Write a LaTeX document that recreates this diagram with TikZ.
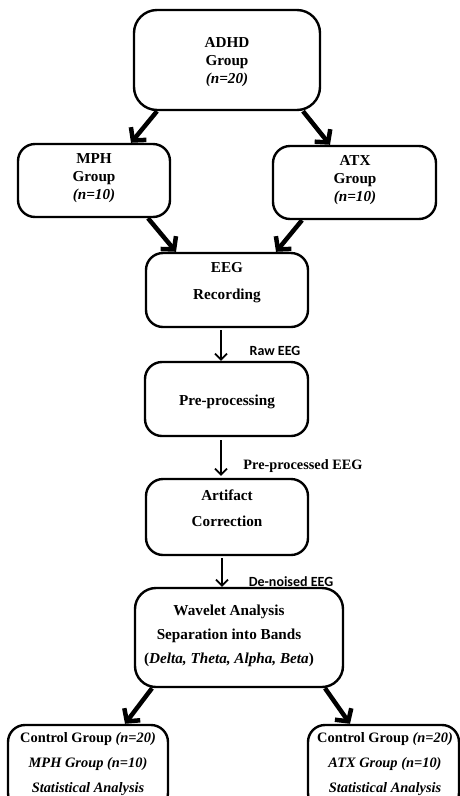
\documentclass[tikz,border=0pt]{standalone}
\usepackage{fontspec}
\setmainfont{Liberation Serif}
\newfontfamily\carlitofont{Carlito}
\usetikzlibrary{arrows.meta,calc}
\tikzset{
  box/.style={draw=black, line width=2.4pt, rounded corners=17pt, inner sep=0pt},
  txt/.style={align=center, inner sep=0pt, font=\bfseries\fontsize{15.2}{18}\selectfont},
  thickarr/.style={line width=4.5pt, -{Straight Barb[length=9pt,width=20pt]}},
  thinarr/.style={line width=1.8pt, -{Straight Barb[length=6pt,width=12pt]}},
  lbl/.style={inner sep=0pt, font=\bfseries\fontsize{14.3}{16}\selectfont},
  lbls/.style={inner sep=0pt, font=\carlitofont\bfseries\fontsize{14}{16}\selectfont},
}
\begin{document}
\begin{tikzpicture}[x=1pt,y=-1pt]
\path[use as bounding box, clip] (0,0) rectangle (460,796);
% boxes
\node[box, rounded corners=23pt, minimum width=186pt, minimum height=100pt] (adhd) at (227,60) {};
\node[box, minimum width=152pt, minimum height=73pt] (mph) at (94,180.5) {};
\node[box, minimum width=163pt, minimum height=73pt] (atx) at (354.5,182.5) {};
\node[box, minimum width=162pt, minimum height=74pt] (eeg) at (227,290) {};
\node[box, minimum width=163pt, minimum height=74pt] (pre) at (226.5,399) {};
\node[box, minimum width=162pt, minimum height=76pt] (art) at (227,517) {};
\node[box, rounded corners=21pt, minimum width=208pt, minimum height=99pt] (wav) at (239,637.5) {};
\node[box, minimum width=160pt, minimum height=85pt] (bl) at (88,767.5) {};
\node[box, minimum width=151pt, minimum height=85pt] (br) at (383.5,767.5) {};
% texts
\node[txt] (tadhd) at (227,62) {ADHD\\Group\\\textit{(n=20)}};
\node[txt] (tmph) at (94,178) {MPH\\Group\\\textit{(n=10)}};
\node[txt] (tatx) at (355,180) {ATX\\Group\\\textit{(n=10)}};
\node[txt, font=\bfseries\fontsize{15.2}{27}\selectfont] (teeg) at (227,282.5) {EEG\\Recording};
\node[txt] (tpre) at (227,402) {Pre-processing};
\node[txt, font=\bfseries\fontsize{15.2}{26}\selectfont] (tart) at (227,508) {Artifact\\Correction};
\node[txt, font=\bfseries\fontsize{15.2}{24}\selectfont] (twav) at (229,636) {Wavelet Analysis\\Separation into Bands\\(\textit{Delta, Theta, Alpha, Beta})};
\node[txt, font=\bfseries\fontsize{14.4}{25}\selectfont] (tbl) at (88,764) {Control Group \textit{(n=20)}\\\textit{MPH Group (n=10)}\\\textit{Statistical Analysis}};
\node[txt, font=\bfseries\fontsize{14.4}{25}\selectfont] (tbr) at (385,764) {Control Group \textit{(n=20)}\\\textit{ATX Group (n=10)}\\\textit{Statistical Analysis}};
% labels
\node[lbls] (lraw) at (275,351) {Raw EEG};
\node[lbl] (lpre) at (303,466) {Pre-processed EEG};
\node[lbls] (lden) at (291,582) {De-noised EEG};
% arrows
\draw[thickarr] ([xshift=-70pt]adhd.south) -- ([xshift=37pt]mph.north);
\draw[thickarr] ([xshift=76pt]adhd.south) -- ([xshift=-24.5pt]atx.north);
\draw[thickarr] ([xshift=54pt]mph.south) -- ([xshift=-51pt]eeg.north);
\draw[thickarr] ([xshift=-52.5pt]atx.south) -- ([xshift=49pt]eeg.north);
\draw[thinarr] ([xshift=-6pt,yshift=-2pt]eeg.south) -- ([xshift=-5.5pt]pre.north);
\draw[thinarr] ([xshift=-5.5pt,yshift=-3pt]pre.south) -- ([xshift=-6pt,yshift=2pt]art.north);
\draw[thinarr] ([xshift=-5pt,yshift=-2pt]art.south) -- ([xshift=-17pt]wav.north);
\draw[thickarr] ([xshift=-87pt]wav.south) -- ([xshift=37pt]bl.north);
\draw[thickarr] ([xshift=86pt]wav.south) -- ([xshift=-33.5pt]br.north);
\end{tikzpicture}
\end{document}
